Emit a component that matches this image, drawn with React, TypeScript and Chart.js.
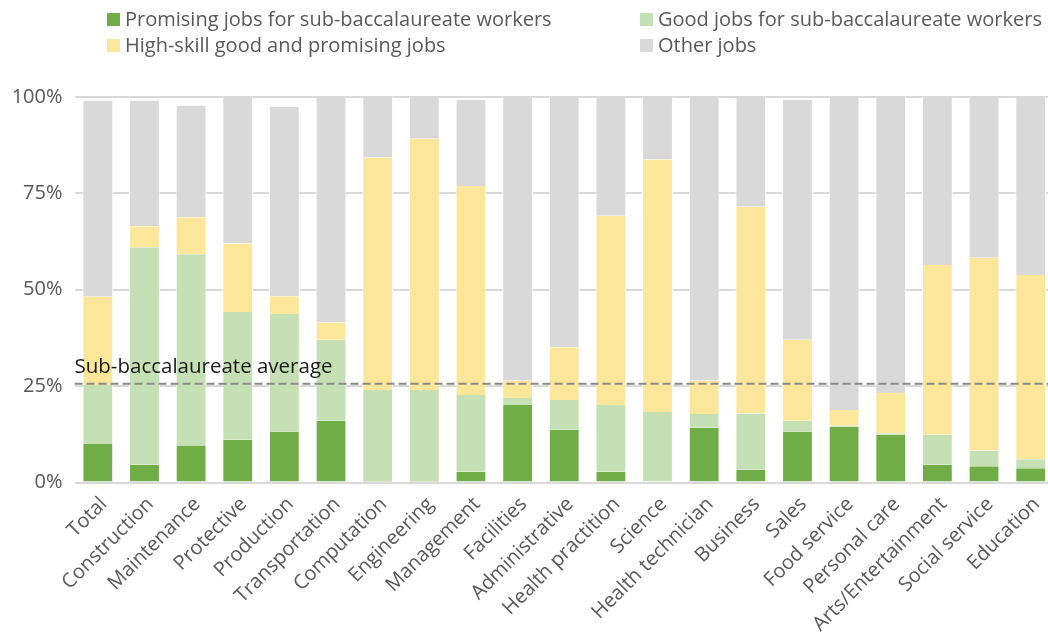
import React, { useEffect, useRef } from "react";
import { Chart, registerables } from "chart.js";

Chart.register(...registerables);

const categories = [
  "Total", "Construction", "Maintenance", "Protective", "Production", "Transportation",
  "Computation", "Engineering", "Management", "Facilities", "Administrative",
  "Health practition", "Science", "Health technician", "Business", "Sales",
  "Food service", "Personal care", "Arts/Entertainment", "Social service", "Education",
];

const promising = [10.0, 4.6, 9.5, 11.1, 13.2, 16.0, 0.4, 0.4, 2.8, 20.1, 13.7, 2.8, 0.0, 14.2, 3.3, 13.2, 14.5, 12.4, 4.6, 4.2, 3.7];
const good = [15.3, 56.4, 49.7, 33.1, 30.5, 21.0, 23.6, 23.6, 19.9, 1.8, 7.7, 17.3, 18.3, 3.6, 14.6, 2.8, 0.2, 0.4, 7.8, 4.1, 2.3];
const highSkill = [22.9, 5.5, 9.6, 17.8, 4.6, 4.5, 60.3, 65.2, 54.2, 4.5, 13.7, 49.1, 65.5, 8.6, 53.6, 21.0, 4.1, 10.4, 44.0, 50.0, 47.8];
const other = [50.9, 32.6, 29.0, 38.0, 49.1, 58.5, 15.7, 10.8, 22.3, 73.6, 64.9, 30.8, 16.2, 73.6, 28.5, 62.2, 81.2, 76.8, 43.6, 41.7, 46.2];

const yTicks = [0, 25, 50, 75, 100];
const subBaccAverage = 25.6;
const averageLabel = "Sub-baccalaureate average";

const seriesNames = [
  "Promising jobs for sub-baccalaureate workers",
  "Good jobs for sub-baccalaureate workers",
  "High-skill good and promising jobs",
  "Other jobs",
];
const seriesColors = ["#70AD47", "#C5E0B4", "#FCE699", "#D9D9D9"];

const FONT = "'Open Sans', sans-serif";

const avgLinePlugin = {
  id: "avgLine",
  afterDatasetsDraw(chart: any) {
    const { ctx, chartArea, scales } = chart;
    const y = scales.y.getPixelForValue(subBaccAverage);
    ctx.save();
    ctx.strokeStyle = "#8a8a8a";
    ctx.lineWidth = 2;
    ctx.setLineDash([8, 4]);
    ctx.beginPath();
    ctx.moveTo(chartArea.left, y);
    ctx.lineTo(chartArea.right, y);
    ctx.stroke();
    ctx.setLineDash([]);
    ctx.fillStyle = "#1a1a1a";
    ctx.font = "20.5px " + FONT;
    ctx.textAlign = "left";
    ctx.textBaseline = "alphabetic";
    ctx.fillText(averageLabel, chartArea.left, y - 11);
    ctx.restore();
  },
};

export default function App() {
  const ref = useRef<HTMLCanvasElement | null>(null);
  useEffect(() => {
    document.body.style.margin = "0";
    const data = [promising, good, highSkill, other];
    const chart = new Chart(ref.current as HTMLCanvasElement, {
      type: "bar",
      data: {
        labels: categories,
        datasets: data.map((d, i) => ({
          label: seriesNames[i],
          data: d,
          backgroundColor: seriesColors[i],
          borderColor: "#ffffff",
          borderWidth: { left: 1, right: 1, top: 0, bottom: 0 },
          borderSkipped: false,
          barPercentage: 0.66,
          categoryPercentage: 1,
        })),
      },
      options: {
        responsive: false,
        animation: false,
        layout: { padding: { top: 97, left: 0, right: 0, bottom: 0 } },
        plugins: { legend: { display: false }, tooltip: { enabled: false } },
        scales: {
          x: {
            stacked: true,
            grid: { display: false },
            border: { display: false },
            ticks: {
              maxRotation: 45,
              minRotation: 45,
              autoSkip: false,
              padding: 2,
              labelOffset: 6,
              color: "#595959",
              font: { family: FONT, size: 20 },
            },
            afterFit: (s: any) => { s.height = 153.5; },
          },
          y: {
            stacked: true,
            min: 0,
            max: 100,
            afterBuildTicks: (s: any) => { s.ticks = yTicks.map((v) => ({ value: v })); },
            grid: { color: "#D9D9D9", lineWidth: 2, drawTicks: false },
            border: { display: false },
            ticks: {
              padding: 12,
              color: "#595959",
              font: { family: FONT, size: 20 },
              callback: (v: any) => v + "%",
            },
            afterFit: (s: any) => { s.width = 74.5; },
          },
        },
      },
      plugins: [avgLinePlugin],
    });
    return () => chart.destroy();
  }, []);

  const legendPos = [
    { left: 107, top: 7 },
    { left: 640, top: 7 },
    { left: 107, top: 33 },
    { left: 640, top: 33 },
  ];

  return (
    <div style={{ position: "absolute", left: 0, top: 0, width: 1048, height: 636, overflow: "hidden", background: "#fff" }}>
      <canvas ref={ref} width={1054} height={636} style={{ position: "absolute", left: 0, top: 0, width: 1054, height: 636 }} />
      {seriesNames.map((n, i) => (
        <div key={n} style={{ position: "absolute", left: legendPos[i].left, top: legendPos[i].top, display: "flex", alignItems: "center", fontFamily: FONT, fontSize: 20, color: "#595959", whiteSpace: "nowrap", lineHeight: "24px" }}>
          <span style={{ display: "inline-block", width: 13, height: 13, background: seriesColors[i], marginRight: 5 }} />
          <span>{n}</span>
        </div>
      ))}
    </div>
  );
}
